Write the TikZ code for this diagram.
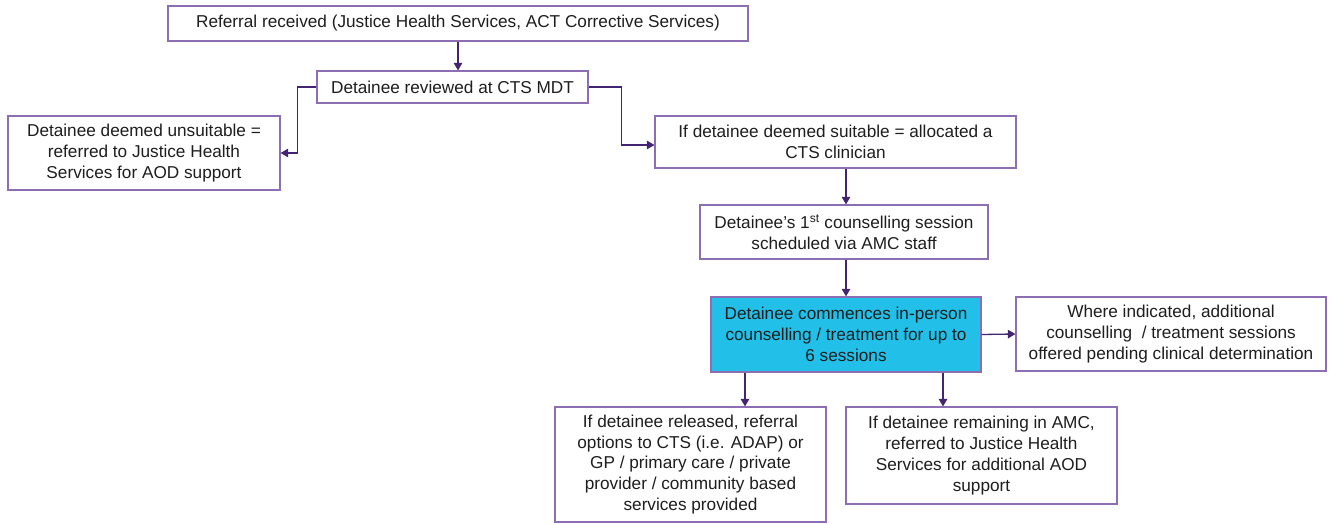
\documentclass[tikz,border=0pt]{standalone}
\usepackage{fontspec}
\setmainfont{Liberation Sans}
\usetikzlibrary{arrows.meta}
\definecolor{boxline}{RGB}{142,110,178}
\definecolor{linkline}{RGB}{66,36,112}
\definecolor{hilite}{RGB}{34,192,232}
\definecolor{txt}{RGB}{30,30,30}
\begin{document}
\begin{tikzpicture}[x=1pt,y=-1pt,
  every node/.style={font=\fontsize{17.2}{20.8}\selectfont, text=txt},
  stepbox/.style={draw=boxline, line width=1.2pt, fill=white, align=center,
    inner sep=0pt, anchor=center},
  link/.style={draw=linkline, line width=1.3pt,
    -{Triangle[width=8.5pt,length=7.5pt]}}]
\useasboundingbox (0,0) rectangle (1333,524);
\node[stepbox, minimum width=580, minimum height=35] (ref) at (458,23.5)
  {Referral received (Justice Health Services, ACT Corrective Services)};
\node[stepbox, minimum width=271, minimum height=32] (mdt) at (452.5,87)
  {Detainee reviewed at CTS MDT};
\node[stepbox, minimum width=272, minimum height=74] (unsuit) at (144,153)
  {Detainee deemed unsuitable =\\referred to Justice Health\\Services for AOD support};
\node[stepbox, minimum width=361, minimum height=52] (suit) at (835.5,142)
  {If detainee deemed suitable = allocated a\\CTS clinician};
\node[stepbox, minimum width=288, minimum height=54] (first) at (844,232)
  {Detainee's 1\textsuperscript{st} counselling session\\scheduled via AMC staff};
\node[stepbox, fill=hilite, minimum width=270, minimum height=75] (treat) at (846,334.5)
  {Detainee commences in-person\\counselling / treatment for up to\\6 sessions};
\node[stepbox, minimum width=310, minimum height=74] (extra) at (1171,334)
  {Where indicated, additional\\counselling \ / treatment sessions\\offered pending clinical determination};
\node[stepbox, minimum width=271, minimum height=115] (release) at (690.5,464.5)
  {If detainee released, referral\\options to CTS (i.e. ADAP) or\\GP / primary care / private\\provider / community based\\services provided};
\node[stepbox, minimum width=271, minimum height=97] (remain) at (981.5,455.5)
  {If detainee remaining in AMC,\\referred to Justice Health\\Services for additional AOD\\support};
% connectors
\draw[link] (ref.south) -- (ref.south |- mdt.north);
\draw[link] (mdt.west) -- ++(-19,0) |- (unsuit.east);
\draw[link] (mdt.east) -- ++(33,0) |- ([yshift=-3]suit.west);
\draw[link] ([xshift=10.5]suit.south) -- ([xshift=10.5]suit.south |- first.north);
\draw[link] ([xshift=2]first.south) -- ([xshift=2]first.south |- treat.north);
\draw[link] (treat.east) -- (extra.west);
\draw[link] ([xshift=-101]treat.south) -- ([xshift=-101]treat.south |- release.north);
\draw[link] ([xshift=97]treat.south) -- ([xshift=97]treat.south |- remain.north);
\end{tikzpicture}
\end{document}
